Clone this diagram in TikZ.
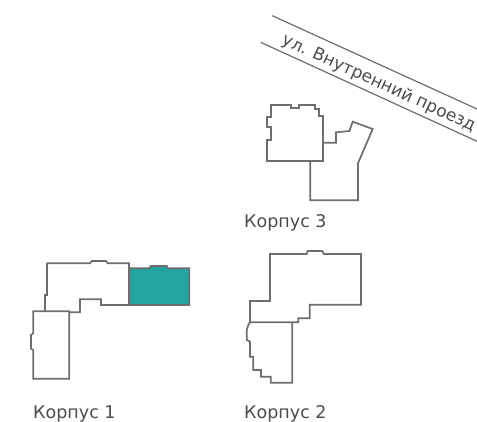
\documentclass[tikz,border=0pt]{standalone}
\usepackage{fontspec}
\setmainfont{DejaVu Sans}
\definecolor{wallgray}{HTML}{6E6E6E}
\definecolor{sectionteal}{HTML}{22A5A0}
\tikzset{
    wall/.style={draw=wallgray, line width=1.7pt, line join=miter},
    road/.style={draw=wallgray, line width=1.2pt},
    caption/.style={anchor=west, inner sep=0pt, text=black!70, font=\fontsize{17.5}{19}\selectfont}
}

\begin{document}
\begin{tikzpicture}[x=1pt, y=-1pt]
    \useasboundingbox (0,0) rectangle (477,422);

    % Road
    \draw[road] (272.3,15.7) -- (477,109);
    \draw[road] (260.7,42.3) -- (477,141.3);
    \node[rotate=-24.5, inner sep=0pt, text=black!70, font=\fontsize{17}{19}\selectfont] (roadname) at (378.7,83.3) {ул. Внутренний проезд};

    % Building 3
    \draw[wall] (270.7,105.3) -- (290.7,105.3) -- (290.7,108) -- (299.3,108) -- (299.3,105.3) -- (315.3,105.3) -- (315.3,109.3) -- (319.3,109.3) -- (319.3,116) -- (323,116) -- (323,161) -- (267,161) -- (267,140) -- (270.7,140) -- (270.7,126.7) -- (267,126.7) -- (267,116.7) -- (270.7,116.7) -- cycle;
    \draw[wall] (310.3,161) -- (310.3,200.3) -- (358,200.3) -- (358,163.3) -- (372.7,129) -- (352.7,121.7) -- (349.3,131) -- (336,132.3) -- (336,142.7) -- (323,142.7);

    % Building 1
    \draw[wall] (46.7,263.3) -- (90,263.3) -- (91.7,261) -- (106,261) -- (107.7,263.3) -- (129,263.3) -- (129,305) -- (101,305) -- (101,299.3) -- (80,299.3) -- (80,312.3) -- (69.3,312.3);
    \draw[wall] (45,311.3) -- (45,295) -- (46.7,295) -- (46.7,263.3);
    \draw[wall] (33.3,311.3) -- (69.3,311.3) -- (69.3,378.7) -- (33.3,378.7) -- (33.3,350) -- (31,348.7) -- (31,335) -- (33.3,333.3) -- cycle;
    \draw[wall, fill=sectionteal] (129,268.3) -- (149.3,268.3) -- (150.7,266) -- (166.7,266) -- (167.7,268.3) -- (189.3,268.3) -- (189.3,305) -- (129,305) -- cycle;

    % Building 2
    \draw[wall] (270,254) -- (306.7,254) -- (307.7,251) -- (322.3,251) -- (323.7,254) -- (361,254) -- (361,304.7) -- (309.7,304.7) -- (309.7,318.3) -- (298.3,318.3) -- (298.3,322.3) -- (250,322.3) -- (250,301) -- (270,301) -- cycle;
    \draw[wall] (292.3,322.3) -- (292.3,382.7) -- (270.7,382.7) -- (270.7,376.7) -- (261,376.7) -- (261,370) -- (253.3,370) -- (253.3,356.7) -- (250,356.7) -- (250,341.7) -- (246.7,340) -- (246.7,330) -- (248.3,325) -- (250,322.3);

    % Captions
    \foreach \name/\px/\py/\txt in {cap3/244/223/Корпус 3, cap1/33/414/Корпус 1, cap2/244/414/Корпус 2}
        \node[caption] (\name) at (\px,\py) {\txt};
\end{tikzpicture}
\end{document}
